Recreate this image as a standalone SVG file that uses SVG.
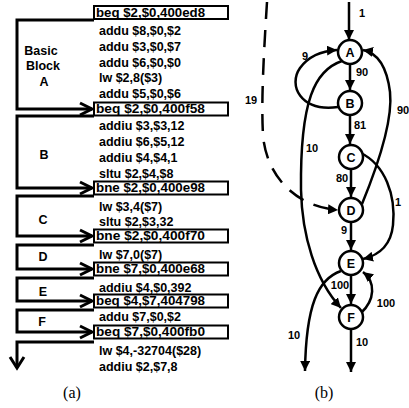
<svg xmlns="http://www.w3.org/2000/svg" width="409" height="408" viewBox="0 0 409 408">
<defs>
<style>
.t{font-family:"Liberation Sans",Arial,sans-serif;font-weight:bold;font-size:12.5px;fill:#000}
.bt{font-family:"Liberation Sans",Arial,sans-serif;font-weight:bold;font-size:12px;fill:#000}
.lb{font-family:"Liberation Sans",Arial,sans-serif;font-weight:bold;font-size:12.5px;fill:#000;text-anchor:middle}
.el{font-family:"Liberation Sans",Arial,sans-serif;font-weight:bold;font-size:11px;fill:#000;text-anchor:middle}
.nl{font-family:"Liberation Sans",Arial,sans-serif;font-weight:bold;font-size:12.5px;fill:#000;text-anchor:middle}
.cap{font-family:"Liberation Serif","Times New Roman",serif;font-size:16px;fill:#000;text-anchor:middle}
.box{fill:#fff;stroke:#000;stroke-width:2}
.ln{fill:none;stroke:#000;stroke-width:3;stroke-linejoin:miter}
.chev{fill:none;stroke:#000;stroke-width:3}
.nd{fill:#fff;stroke:#000;stroke-width:2.5}
.e{fill:none;stroke:#000;stroke-width:2.5;marker-end:url(#ah)}
.d{fill:none;stroke:#000;stroke-width:2.5;stroke-dasharray:17 11;marker-end:url(#ah)}
</style>
<marker id="ah" markerUnits="userSpaceOnUse" markerWidth="10" markerHeight="10" refX="10" refY="5" orient="auto">
<path d="M0,0 L10,5 L0,10 z" fill="#000"/>
</marker>
</defs>
<rect width="409" height="408" fill="#fff"/>

<!-- (a) code listing -->
<g id="code">
<rect class="box" x="94" y="6" width="134" height="13"/>
<rect class="box" x="94" y="102.5" width="134" height="13"/>
<rect class="box" x="94" y="181.5" width="134" height="13"/>
<rect class="box" x="94" y="229.5" width="134" height="13"/>
<rect class="box" x="94" y="262.5" width="134" height="13"/>
<rect class="box" x="94" y="294.5" width="134" height="13"/>
<rect class="box" x="94" y="325.5" width="134" height="13"/>
<text class="bt" x="96" y="16.8" textLength="109" lengthAdjust="spacingAndGlyphs">beq $2,$0,400ed8</text>
<text class="t" x="99" y="34.5">addu $8,$0,$2</text>
<text class="t" x="99" y="51">addu $3,$0,$7</text>
<text class="t" x="99" y="67">addu $6,$0,$0</text>
<text class="t" x="99" y="82">lw $2,8($3)</text>
<text class="t" x="99" y="97.5">addu $5,$0,$6</text>
<text class="bt" x="96" y="113.3" textLength="109" lengthAdjust="spacingAndGlyphs">beq $2,$0,400f58</text>
<text class="t" x="99" y="129.5">addiu $3,$3,12</text>
<text class="t" x="99" y="145.5">addiu $6,$5,12</text>
<text class="t" x="99" y="161.5">addiu $4,$4,1</text>
<text class="t" x="99" y="177.5">sltu $2,$4,$8</text>
<text class="bt" x="96" y="192.3" textLength="109" lengthAdjust="spacingAndGlyphs">bne $2,$0,400e98</text>
<text class="t" x="99" y="210.5">lw $3,4($7)</text>
<text class="t" x="99" y="225.5">sltu $2,$3,32</text>
<text class="bt" x="96" y="240.3" textLength="109" lengthAdjust="spacingAndGlyphs">bne $2,$0,400f70</text>
<text class="t" x="99" y="258.5">lw $7,0($7)</text>
<text class="bt" x="96" y="273.3" textLength="109" lengthAdjust="spacingAndGlyphs">bne $7,$0,400e68</text>
<text class="t" x="99" y="291.5">addiu $4,$0,392</text>
<text class="bt" x="96" y="305.3" textLength="109" lengthAdjust="spacingAndGlyphs">beq $4,$7,404798</text>
<text class="t" x="99" y="320.5">addu $7,$0,$2</text>
<text class="bt" x="96" y="336.3" textLength="109" lengthAdjust="spacingAndGlyphs">beq $7,$0,400fb0</text>
<text class="t" x="99" y="354.5">lw $4,-32704($28)</text>
<text class="t" x="99" y="370.5">addiu $2,$7,8</text>
</g>

<g id="blockA">
<polyline class="ln" points="94,20 17,20 17,109 92,109"/>
<polyline class="chev" points="80,103 92,109 80,115"/>
<text class="lb" x="41" y="55">Basic</text>
<text class="lb" x="43" y="70">Block</text>
<text class="lb" x="44" y="86">A</text>
</g>
<g id="blockB">
<polyline class="ln" points="94,116 17,116 17,188 92,188"/>
<polyline class="chev" points="80,182 92,188 80,194"/>
<text class="lb" x="44" y="159">B</text>
</g>
<g id="blockC">
<polyline class="ln" points="94,196 17,196 17,236 92,236"/>
<polyline class="chev" points="80,230 92,236 80,242"/>
<text class="lb" x="43" y="224">C</text>
</g>
<g id="blockD">
<polyline class="ln" points="94,245 17,245 17,269 92,269"/>
<polyline class="chev" points="80,263 92,269 80,275"/>
<text class="lb" x="43" y="261">D</text>
</g>
<g id="blockE">
<polyline class="ln" points="94,278 17,278 17,301 92,301"/>
<polyline class="chev" points="80,295 92,301 80,307"/>
<text class="lb" x="43" y="296">E</text>
</g>
<g id="blockF">
<polyline class="ln" points="94,310 17,310 17,332 92,332"/>
<polyline class="chev" points="80,326 92,332 80,338"/>
<text class="lb" x="42" y="326">F</text>
</g>
<g id="exit">
<polyline class="ln" points="94,342 17,342 17,368"/>
<polyline class="chev" points="10,357 17,368 24,357"/>
</g>
<text class="cap" x="72" y="398">(a)</text>

<!-- (b) graph -->
<g id="connectors">
<path class="e" d="M349,2 L349,40"/>
<path class="e" d="M350,64 L350,90"/>
<path class="e" d="M350,115 L350,144"/>
<path class="e" d="M351,169 L351,197"/>
<path class="e" d="M351,222 L351,250"/>
<path class="e" d="M351,275 L351,304"/>
<path class="e" d="M351,329 L351,372"/>
<path class="e" d="M338,107 C300,112 288,85 300,68 C308,57 320,51 337,50"/>
<path class="e" d="M342,61 C315,70 300,100 301,190 C302,235 315,280 341,308"/>
<path class="e" d="M362,204 C378,165 393,120 390,92 C387,68 378,53 363,50"/>
<path class="e" d="M361,153 C385,165 396,195 393,225 C391,245 380,255 363,259"/>
<path class="e" d="M361,313 C375,300 376,282 363,272"/>
<path class="e" d="M341,271 C318,279 306,305 305,371"/>
<path class="d" d="M267,2 C264,50 261,100 263,135 C266,175 295,207 338,210"/>
<text class="el" x="362" y="17">1</text>
<text class="el" x="305" y="60">9</text>
<text class="el" x="362" y="76">90</text>
<text class="el" x="251" y="104">19</text>
<text class="el" x="360" y="129">81</text>
<text class="el" x="403" y="114">90</text>
<text class="el" x="312" y="152">10</text>
<text class="el" x="342" y="182">80</text>
<text class="el" x="398" y="206">1</text>
<text class="el" x="344" y="234">9</text>
<text class="el" x="340" y="289">100</text>
<text class="el" x="386" y="307">100</text>
<text class="el" x="294" y="339">10</text>
<text class="el" x="362" y="346">10</text>
</g>
<g id="nodeA"><circle class="nd" cx="350" cy="52" r="12"/><text class="nl" x="350" y="56.5">A</text></g>
<g id="nodeB"><circle class="nd" cx="350" cy="103" r="12"/><text class="nl" x="350" y="107.5">B</text></g>
<g id="nodeC"><circle class="nd" cx="351" cy="157" r="12"/><text class="nl" x="351" y="161.5">C</text></g>
<g id="nodeD"><circle class="nd" cx="351" cy="210" r="12"/><text class="nl" x="351" y="214.5">D</text></g>
<g id="nodeE"><circle class="nd" cx="351" cy="263" r="12"/><text class="nl" x="351" y="267.5">E</text></g>
<g id="nodeF"><circle class="nd" cx="351" cy="317" r="12"/><text class="nl" x="351" y="321.5">F</text></g>
<text class="cap" x="324" y="398">(b)</text>
</svg>
